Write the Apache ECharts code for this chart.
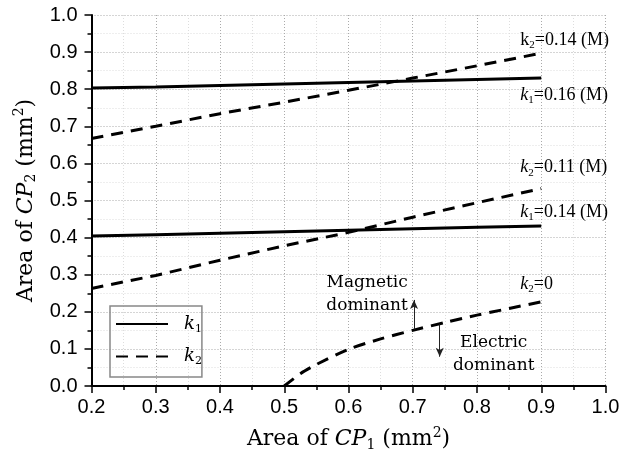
<!DOCTYPE html>
<html>
<head>
<meta charset="utf-8">
<script src="https://cdn.jsdelivr.net/npm/echarts@6/dist/echarts.min.js"></script>
<style>
  html, body { margin: 0; padding: 0; background: #fff; }
  #chart { width: 636px; height: 462px; }
</style>
</head>
<body>
<div id="chart"></div>
<script>
// Area of CP1 (mm²) sampled along each curve
const cp1 = [0.2, 0.3, 0.4, 0.5, 0.6, 0.7, 0.8, 0.9];
// k1 = 0.16 (M)
const k1High = [0.803, 0.806, 0.810, 0.814, 0.818, 0.822, 0.826, 0.830];
// k2 = 0.14 (M)
const k2High = [0.667, 0.700, 0.734, 0.765, 0.797, 0.830, 0.863, 0.897];
// k1 = 0.14 (M)
const k1Low = [0.404, 0.408, 0.412, 0.416, 0.420, 0.424, 0.428, 0.431];
// k2 = 0.11 (M)
const k2Low = [0.263, 0.298, 0.339, 0.378, 0.414, 0.455, 0.494, 0.532];
// k2 = 0 starts at CP1 = 0.5
const cp1Zero = [0.5, 0.525, 0.55, 0.6, 0.65, 0.7, 0.75, 0.8, 0.85, 0.9];
const k2Zero = [0.0, 0.033, 0.058, 0.099, 0.127, 0.150, 0.171, 0.191, 0.209, 0.227];

const xTicks = { min: 0.2, max: 1.0, step: 0.1 };
const yTicks = { min: 0.0, max: 1.0, step: 0.1 };

const SERIF = '"DejaVu Serif", serif';
const SERIF_NARROW = '"Liberation Serif", "Times New Roman", serif';
const SANS = '"Liberation Sans", Arial, sans-serif';

const pair = (xs, ys) => xs.map((x, i) => [x, ys[i]]);

// rich-text styles for sub/superscripts
function richSet(size, family) {
  const fam = family || SERIF;
  const s = Math.round(size * 0.62);
  const sh = Math.round(size * 0.55);
  return {
    n: { fontFamily: fam, fontSize: size, color: '#000' },
    i: { fontFamily: fam, fontSize: size, fontStyle: 'italic', color: '#000' },
    sub: { fontFamily: fam, fontSize: s, color: '#000', padding: [sh, 0, 0, 0] },
    sup: { fontFamily: fam, fontSize: s, color: '#000', padding: [0, 0, sh, 0] }
  };
}

const solid = { color: '#000', width: 3, type: 'solid' };
const dashed = { color: '#000', width: 3, type: [12, 8] };

function endLabel(text, dx, dy) {
  return {
    show: true,
    formatter: text,
    distance: 0,
    offset: [dx, dy],
    align: 'left',
    rich: richSet(18, SERIF_NARROW)
  };
}

const option = {
  animation: false,
  backgroundColor: '#fff',
  grid: { left: 91.5, right: 30.5, top: 15, bottom: 76, containLabel: false },
  legend: {
    orient: 'vertical',
    left: 110,
    top: 306,
    data: ['k1', 'k2'],
    itemWidth: 52,
    itemHeight: 14,
    itemGap: 12,
    padding: [8, 0, 10, 5],
    borderColor: '#888',
    borderWidth: 1.5,
    itemStyle: { opacity: 0 },
    formatter: name => name === 'k1' ? '{i|k}{sub|1}' : '{i|k}{sub|2}',
    textStyle: {
      lineHeight: 20,
      rich: Object.assign(richSet(18), {
        i: { fontFamily: SERIF, fontSize: 18, fontStyle: 'italic', color: '#000', padding: [0, 0, 0, 11] }
      })
    }
  },
  xAxis: {
    type: 'value',
    min: xTicks.min,
    max: xTicks.max,
    interval: xTicks.step,
    name: '{n|Area of }{i|CP}{sub|1}{n| (mm}{sup|2}{n|)}',
    nameLocation: 'middle',
    nameGap: 40,
    nameTextStyle: { rich: richSet(22) },
    axisLine: { show: true, lineStyle: { color: '#000', width: 2 } },
    axisTick: { show: true, inside: false, length: 7, lineStyle: { color: '#000', width: 1.5 } },
    minorTick: { show: true, splitNumber: 2, length: 4, lineStyle: { color: '#000', width: 1.5 } },
    axisLabel: {
      fontFamily: SANS, fontSize: 20, color: '#000', margin: 11,
      formatter: v => v.toFixed(1)
    },
    splitLine: { show: true, lineStyle: { color: '#aaa', width: 1, type: [1, 2] } },
    minorSplitLine: { show: true, lineStyle: { color: '#ddd', width: 1, type: [1, 2] } }
  },
  yAxis: {
    type: 'value',
    min: yTicks.min,
    max: yTicks.max,
    interval: yTicks.step,
    name: '{n|Area of }{i|CP}{sub|2}{n| (mm}{sup|2}{n|)}',
    nameLocation: 'middle',
    nameRotate: 90,
    nameGap: 52,
    nameTextStyle: { rich: richSet(22) },
    axisLine: { show: true, lineStyle: { color: '#000', width: 2 } },
    axisTick: { show: true, inside: false, length: 7, lineStyle: { color: '#000', width: 1.5 } },
    minorTick: { show: true, splitNumber: 2, length: 4, lineStyle: { color: '#000', width: 1.5 } },
    axisLabel: {
      fontFamily: SANS, fontSize: 20, color: '#000', margin: 14,
      formatter: v => v.toFixed(1)
    },
    splitLine: { show: true, lineStyle: { color: '#aaa', width: 1, type: [1, 2] } },
    minorSplitLine: { show: true, lineStyle: { color: '#ddd', width: 1, type: [1, 2] } }
  },
  series: [
    {
      name: 'k1', type: 'line', showSymbol: false, symbol: 'none', silent: true,
      data: pair(cp1, k1High), lineStyle: solid, itemStyle: { color: '#000' },
      endLabel: endLabel('{i|k}{sub|1}{n|=0.16 (M)}', -21, 17)
    },
    {
      name: 'k2', type: 'line', showSymbol: false, symbol: 'none', silent: true,
      data: pair(cp1, k2High), lineStyle: dashed, itemStyle: { color: '#000' },
      endLabel: endLabel('{n|k}{sub|2}{n|=0.14 (M)}', -21, -13)
    },
    {
      name: 'k1', type: 'line', showSymbol: false, symbol: 'none', silent: true,
      data: pair(cp1, k1Low), lineStyle: solid, itemStyle: { color: '#000' },
      endLabel: endLabel('{i|k}{sub|1}{n|=0.14 (M)}', -21, -14)
    },
    {
      name: 'k2', type: 'line', showSymbol: false, symbol: 'none', silent: true,
      data: pair(cp1, k2Low), lineStyle: dashed, itemStyle: { color: '#000' },
      endLabel: endLabel('{i|k}{sub|2}{n|=0.11 (M)}', -21, -21)
    },
    {
      name: 'k2', type: 'line', showSymbol: false, symbol: 'none', silent: true,
      smooth: 0.25,
      data: pair(cp1Zero, k2Zero), lineStyle: dashed, itemStyle: { color: '#000' },
      endLabel: endLabel('{i|k}{sub|2}{n|=0}', -21, -18),
      markLine: {
        silent: true,
        symbol: ['none', 'arrow'],
        symbolSize: [6, 9],
        label: { show: false },
        lineStyle: { color: '#222', width: 1, type: 'solid' },
        data: [
          [{ coord: [0.702, 0.152] }, { coord: [0.702, 0.232] }],
          [{ coord: [0.742, 0.166] }, { coord: [0.742, 0.079] }]
        ]
      },
      markPoint: {
        silent: true,
        symbol: 'circle',
        symbolSize: 0,
        label: {
          show: true,
          position: 'inside',
          fontFamily: SERIF,
          fontSize: 17,
          lineHeight: 23,
          color: '#000'
        },
        data: [
          { coord: [0.629, 0.249], label: { formatter: 'Magnetic\ndominant' } },
          { coord: [0.826, 0.085], label: { formatter: 'Electric\ndominant' } }
        ]
      }
    }
  ]
};

const chart = echarts.init(document.getElementById('chart'), null, { renderer: 'canvas' });
chart.setOption(option);
</script>
</body>
</html>
